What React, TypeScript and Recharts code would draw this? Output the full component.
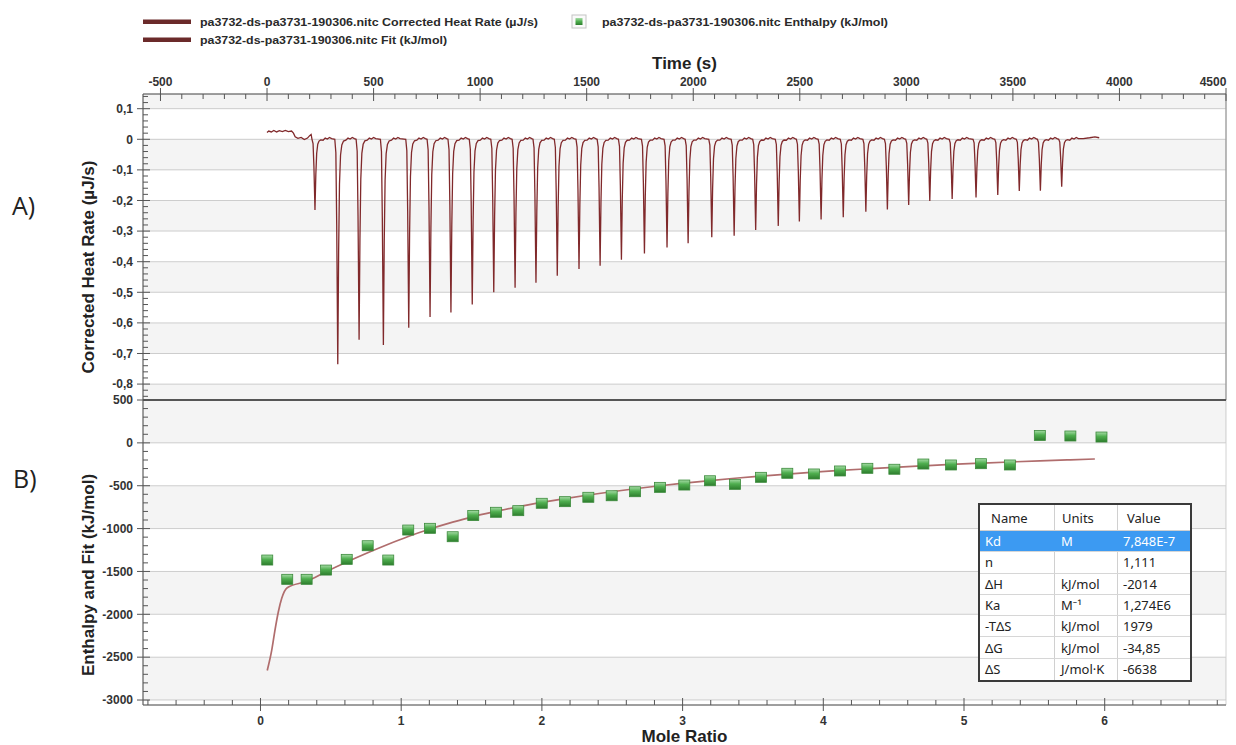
import React from 'react';
import {
  ComposedChart,
  Line,
  Scatter,
  XAxis,
  YAxis,
  CartesianGrid,
  ReferenceArea,
  ReferenceLine,
  Label,
} from 'recharts';

// ---- axes ----
const timeTicks = [-500, 0, 500, 1000, 1500, 2000, 2500, 3000, 3500, 4000, 4500];
const timeDomain: [number, number] = [-582, 4500];
const heatTicks = [0.1, 0, -0.1, -0.2, -0.3, -0.4, -0.5, -0.6, -0.7, -0.8];
const heatDomain: [number, number] = [-0.852, 0.148];
const moleTicks = [0, 1, 2, 3, 4, 5, 6];
const moleDomain: [number, number] = [-0.835, 6.862];
const enthalpyTicks = [500, 0, -500, -1000, -1500, -2000, -2500, -3000];
const enthalpyDomain: [number, number] = [-3058, 500];

// ---- A) raw heat rate ----
const injectionTimes = [
  225, 332, 432, 546, 665, 765, 863, 963, 1064, 1164, 1262, 1362, 1464, 1563, 1663, 1771, 1877, 1976,
  2087, 2192, 2293, 2399, 2498, 2600, 2704, 2810, 2911, 3011, 3110, 3215, 3327, 3429, 3530, 3629, 3729,
];
const peakHeat = [
  -0.231, -0.735, -0.655, -0.672, -0.616, -0.581, -0.566, -0.54, -0.5, -0.485, -0.469, -0.446, -0.424,
  -0.413, -0.394, -0.373, -0.354, -0.34, -0.32, -0.315, -0.296, -0.283, -0.269, -0.262, -0.255, -0.237,
  -0.229, -0.215, -0.202, -0.195, -0.19, -0.182, -0.169, -0.168, -0.155,
];
// pre-injection baseline
const startTrace: [number, number][] = [
  [0, 0.022], [8, 0.027], [20, 0.024], [32, 0.029], [45, 0.024], [58, 0.028], [72, 0.025], [86, 0.029],
  [100, 0.025], [115, 0.027], [124, 0.02], [132, 0.008], [145, 0.003], [160, 0.006], [175, -0.001],
  [190, 0.004], [200, 0.012], [207, 0.016],
];
// shape of one injection peak: [seconds from minimum, fraction of peak depth]
const peakShape: [number, number][] = [
  [-14, 0], [-9, 0.06], [-5, 0.38], [0, 1], [4, 0.5], [8, 0.2], [13, 0.07], [19, 0.025], [27, 0.008],
];
// baseline wiggle after each peak: [seconds from minimum, µJ/s]
const baselineRipple: [number, number][] = [
  [38, -0.003], [48, 0.004], [58, 0.001], [68, 0.006], [78, 0.002],
];
const endTrace: [number, number][] = [
  [3830, 0.002], [3860, 0.005], [3885, 0.008], [3905, 0.005],
];

// ---- B) integrated heats and fit ----
const moleRatio = [
  0.048, 0.19, 0.328, 0.466, 0.613, 0.762, 0.908, 1.05, 1.205, 1.366, 1.512, 1.674, 1.832, 1.999, 2.164,
  2.33, 2.496, 2.662, 2.839, 3.012, 3.195, 3.372, 3.557, 3.744, 3.934, 4.119, 4.313, 4.505, 4.711, 4.908,
  5.12, 5.326, 5.539, 5.756, 5.977,
];
const enthalpy = [
  -1367, -1592, -1592, -1484, -1359, -1200, -1367, -1017, -997, -1095, -848, -810, -791, -705, -686,
  -635, -617, -570, -519, -492, -442, -484, -402, -355, -363, -328, -297, -308, -247, -258, -243, -258,
  87, 80, 68,
];
const fitMole = [
  0.048, 0.08, 0.103, 0.127, 0.151, 0.19, 0.328, 0.466, 0.613, 0.762, 0.908, 1.05, 1.205, 1.366, 1.512,
  1.674, 1.832, 1.999, 2.164, 2.33, 2.496, 2.662, 2.839, 3.012, 3.195, 3.372, 3.557, 3.744, 3.934, 4.119,
  4.313, 4.505, 4.711, 4.908, 5.12, 5.326, 5.539, 5.756, 5.93,
];
const fitEnthalpy = [
  -2655, -2418, -2184, -1970, -1814, -1690, -1615, -1503, -1390, -1282, -1182, -1092, -1005, -925, -860,
  -800, -745, -695, -650, -608, -570, -535, -500, -470, -440, -413, -388, -364, -342, -322, -303, -285,
  -268, -252, -237, -223, -210, -198, -188,
];

const fitNames = ['Kd', 'n', 'ΔH', 'Ka', '-TΔS', 'ΔG', 'ΔS'];
const fitUnits = ['M', '', 'kJ/mol', 'M⁻¹', 'kJ/mol', 'kJ/mol', 'J/mol·K'];
const fitValues = ['7,848E-7', '1,111', '-2014', '1,274E6', '1979', '-34,85', '-6638'];

const legendLabels = [
  'pa3732-ds-pa3731-190306.nitc Corrected Heat Rate (µJ/s)',
  'pa3732-ds-pa3731-190306.nitc Fit (kJ/mol)',
  'pa3732-ds-pa3731-190306.nitc Enthalpy (kJ/mol)',
];

// ---- derived tables ----
const trace: { t: number; q: number }[] = [];
startTrace.forEach(([t, q]) => trace.push({ t, q }));
injectionTimes.forEach((t0, i) => {
  peakShape.forEach(([dt, f]) => trace.push({ t: t0 + dt, q: peakHeat[i] * f }));
  baselineRipple.forEach(([dt, q]) => trace.push({ t: t0 + dt, q }));
});
endTrace.forEach(([t, q]) => trace.push({ t, q }));

const points = moleRatio.map((x, i) => ({ x, y: enthalpy[i] }));
const fitLine = fitMole.map((x, i) => ({ x, y: fitEnthalpy[i] }));

const steps = (from: number, to: number, step: number) => {
  const out: number[] = [];
  for (let v = from; v <= to + 1e-9; v += step) out.push(Math.round(v * 1000) / 1000 || 0);
  return out;
};
// every tick mark (major + minor) on each axis
const timeAll = steps(-500, 4500, 100);
const heatAll = steps(-0.84, 0.14, 0.02);
const moleAll = steps(-0.8, 6.8, 0.2);
const enthalpyAll = steps(-3000, 500, 100);

// alternating background bands between grid lines
const bands = (edges: number[]) =>
  edges.slice(0, -1).map((a, i) => ({ y1: Math.min(a, edges[i + 1]), y2: Math.max(a, edges[i + 1]), shade: i % 2 === 0 }));
const heatBands = bands([heatDomain[1], ...heatTicks, heatDomain[0]]);
const enthalpyBands = bands([...enthalpyTicks, enthalpyDomain[0]]);

const FONT = "'Liberation Sans', Arial, sans-serif";
const AXIS = '#555';
const labelProps = { fontSize: 12, fontWeight: 'bold' as const, fill: '#333', fontFamily: FONT };

const isMajor = (v: number, majors: number[]) => majors.some((m) => Math.abs(m - v) < 1e-6);
const commaDecimal = (v: number) => String(v).replace('.', ',');

// ticks: majors cross the axis line, minors sit inside the plot
const makeTick = (side: 'left' | 'top' | 'bottom', majors: number[], fmt: (v: number) => string) => (props: any) => {
  const { x, y, payload } = props;
  const v = payload.value as number;
  const major = isMajor(v, majors);
  if (side === 'left') {
    return (
      <g>
        <line x1={x - (major ? 6 : 0)} x2={x + (major ? 7 : 5)} y1={y} y2={y} stroke={AXIS} />
        {major && (
          <text x={x - 10} y={y} dy="0.36em" textAnchor="end" {...labelProps}>
            {fmt(v)}
          </text>
        )}
      </g>
    );
  }
  if (side === 'top') {
    const last = Math.abs(v - majors[majors.length - 1]) < 1e-6;
    return (
      <g>
        <line x1={x} x2={x} y1={y - (major ? 6 : 0)} y2={y + (major ? 7 : 5)} stroke={AXIS} />
        {major && (
          <text x={last ? x - 13 : x} y={y - 8.5} textAnchor="middle" {...labelProps}>
            {fmt(v)}
          </text>
        )}
      </g>
    );
  }
  return (
    <g>
      <line x1={x} x2={x} y1={y + (major ? 6 : 0)} y2={y - (major ? 7 : 5)} stroke={AXIS} />
      {major && (
        <text x={x} y={y + 19.5} textAnchor="middle" {...labelProps}>
          {fmt(v)}
        </text>
      )}
    </g>
  );
};

const TimeTick = makeTick('top', timeTicks, String);
const HeatTick = makeTick('left', heatTicks, commaDecimal);
const MoleTick = makeTick('bottom', moleTicks, String);
const EnthalpyTick = makeTick('left', enthalpyTicks, String);

const verticalTitle = (text: string, fromRight: number, shift: number) => (props: any) => {
  const vb = props.viewBox || { x: 0, y: 0, width: 0, height: 0 };
  const cx = vb.x + vb.width - fromRight;
  const cy = vb.y + vb.height / 2 + shift;
  return (
    <text
      x={cx}
      y={cy}
      transform={`rotate(-90 ${cx} ${cy})`}
      textAnchor="middle"
      dominantBaseline="central"
      fontSize={17}
      fontWeight="bold"
      fill="#222"
      fontFamily={FONT}
    >
      {text}
    </text>
  );
};

const GreenSquare = (props: any) => {
  const { cx, cy } = props;
  if (cx == null || cy == null) return null;
  return (
    <rect x={cx - 5.5} y={cy - 5} width={11} height={10} fill="url(#ptSq)" stroke="#3b8a3b" strokeWidth={0.8} />
  );
};

function FitTable() {
  const cell = (w: number, pad: number): React.CSSProperties => ({
    width: w,
    paddingLeft: pad,
    boxSizing: 'border-box',
    display: 'flex',
    alignItems: 'center',
    whiteSpace: 'nowrap',
  });
  return (
    <div
      style={{
        position: 'absolute',
        left: 978,
        top: 503,
        width: 214,
        border: '2px solid #3a3a3a',
        boxSizing: 'border-box',
        background: '#fff',
        fontFamily: "'Noto Sans', sans-serif",
        fontSize: 13,
        color: '#222',
      }}
    >
      <div style={{ display: 'flex', height: 25, borderBottom: '1px solid #d0d0d0' }}>
        <div style={{ ...cell(75, 11), borderRight: '1px solid #d0d0d0' }}>Name</div>
        <div style={{ ...cell(63, 7), borderRight: '1px solid #d0d0d0' }}>Units</div>
        <div style={cell(72, 9)}>Value</div>
      </div>
      {fitNames.map((name, i) => {
        const hi = i === 0;
        return (
          <div
            key={name}
            style={{
              display: 'flex',
              height: 21.3,
              borderBottom: i < fitNames.length - 1 ? '1px solid #d6d6d6' : 'none',
              boxSizing: 'border-box',
              background: hi ? '#3c9af2' : '#fff',
              color: hi ? '#fff' : '#222',
            }}
          >
            <div style={{ ...cell(75, 5), borderRight: hi ? 'none' : '1px solid #d0d0d0' }}>{name}</div>
            <div style={{ ...cell(63, 6), borderRight: hi ? 'none' : '1px solid #d0d0d0' }}>{fitUnits[i]}</div>
            <div style={cell(72, 5)}>{fitValues[i]}</div>
          </div>
        );
      })}
    </div>
  );
}

export default function App() {
  return (
    <div style={{ position: 'absolute', left: 0, top: 0, width: 1236, height: 745, background: '#fff', fontFamily: FONT }}>
      {/* A) Corrected heat rate vs time */}
      <div style={{ position: 'absolute', left: 0, top: 0 }}>
        <ComposedChart width={1236} height={400} margin={{ top: 54, right: 10, bottom: 0, left: 0 }}>
          {heatBands.map((b, i) => (
            <ReferenceArea
              key={i}
              xAxisId="t"
              yAxisId="h"
              y1={b.y1}
              y2={b.y2}
              fill="#000"
              fillOpacity={b.shade ? 0.045 : 0}
              stroke="none"
              ifOverflow="visible"
            />
          ))}
          <CartesianGrid xAxisId="tGrid" yAxisId="hGrid" stroke="#d2d2d2" />
          <XAxis xAxisId="tGrid" hide type="number" domain={timeDomain} ticks={timeTicks} allowDataOverflow interval={0} />
          <YAxis yAxisId="hGrid" hide type="number" domain={heatDomain} ticks={heatTicks} allowDataOverflow interval={0} />
          <XAxis
            xAxisId="t"
            orientation="top"
            type="number"
            dataKey="t"
            domain={timeDomain}
            ticks={timeAll}
            allowDataOverflow
            interval={0}
            height={40}
            tickSize={0}
            tickMargin={0}
            tickLine={false}
            tick={<TimeTick />}
            stroke={AXIS}
          >
            <Label value="Time (s)" position="insideTop" offset={3} fontSize={17} fontWeight="bold" fill="#222" fontFamily={FONT} />
          </XAxis>
          <YAxis
            yAxisId="h"
            type="number"
            domain={heatDomain}
            ticks={heatAll}
            allowDataOverflow
            interval={0}
            width={143}
            tickSize={0}
            tickMargin={0}
            tickLine={false}
            tick={<HeatTick />}
            stroke={AXIS}
          >
            <Label content={verticalTitle('Corrected Heat Rate (µJ/s)', 55, 20)} />
          </YAxis>
          <ReferenceLine xAxisId="t" yAxisId="h" x={timeDomain[1]} stroke="#8c8c8c" />
          <Line
            xAxisId="t"
            yAxisId="h"
            data={trace}
            dataKey="q"
            type="linear"
            dot={false}
            stroke="#80292b"
            strokeWidth={1.3}
            isAnimationActive={false}
          />
        </ComposedChart>
      </div>

      {/* B) Integrated enthalpy vs mole ratio */}
      <div style={{ position: 'absolute', left: 0, top: 380 }}>
        <ComposedChart width={1236} height={365} margin={{ top: 20, right: 10, bottom: 0, left: 0 }}>
          <defs>
            <linearGradient id="ptSq" x1="0" y1="0" x2="0" y2="1">
              <stop offset="0%" stopColor="#a6dca6" />
              <stop offset="45%" stopColor="#4fae4f" />
              <stop offset="100%" stopColor="#2d7d2d" />
            </linearGradient>
          </defs>
          {enthalpyBands.map((b, i) => (
            <ReferenceArea
              key={i}
              xAxisId="m"
              yAxisId="e"
              y1={b.y1}
              y2={b.y2}
              fill="#000"
              fillOpacity={b.shade ? 0.045 : 0}
              stroke="none"
              ifOverflow="visible"
            />
          ))}
          <CartesianGrid xAxisId="time" yAxisId="eGrid" stroke="#d2d2d2" />
          <XAxis xAxisId="time" hide type="number" domain={timeDomain} ticks={timeTicks} allowDataOverflow interval={0} />
          <YAxis yAxisId="eGrid" hide type="number" domain={enthalpyDomain} ticks={enthalpyTicks} allowDataOverflow interval={0} />
          <XAxis
            xAxisId="m"
            orientation="bottom"
            type="number"
            dataKey="x"
            domain={moleDomain}
            ticks={moleAll}
            allowDataOverflow
            interval={0}
            height={40}
            tickSize={0}
            tickMargin={0}
            tickLine={false}
            tick={<MoleTick />}
            stroke={AXIS}
          >
            <Label value="Mole Ratio" position="insideBottom" offset={3} fontSize={17} fontWeight="bold" fill="#222" fontFamily={FONT} />
          </XAxis>
          <YAxis
            yAxisId="e"
            type="number"
            dataKey="y"
            domain={enthalpyDomain}
            ticks={enthalpyAll}
            allowDataOverflow
            interval={0}
            width={143}
            tickSize={0}
            tickMargin={0}
            tickLine={false}
            tick={<EnthalpyTick />}
            stroke={AXIS}
          >
            <Label content={verticalTitle('Enthalpy and Fit (kJ/mol)', 55, 22.5)} />
          </YAxis>
          <ReferenceLine xAxisId="m" yAxisId="e" y={enthalpyDomain[1]} stroke="#555" strokeWidth={2} />
          <ReferenceLine xAxisId="time" yAxisId="e" x={timeDomain[1]} stroke="#8c8c8c" />
          <Line
            xAxisId="m"
            yAxisId="e"
            data={fitLine}
            dataKey="y"
            type="monotone"
            dot={false}
            stroke="#b06d6d"
            strokeWidth={1.7}
            isAnimationActive={false}
          />
          <Scatter
            xAxisId="m"
            yAxisId="e"
            data={points}
            dataKey="y"
            shape={<GreenSquare />}
            isAnimationActive={false}
          />
        </ComposedChart>
      </div>

      <FitTable />

      {/* panel labels and legend */}
      <svg width={1236} height={745} style={{ position: 'absolute', left: 0, top: 0, pointerEvents: 'none' }}>
        <defs>
          <linearGradient id="legSq" x1="0" y1="0" x2="0" y2="1">
            <stop offset="0%" stopColor="#a6dca6" />
            <stop offset="50%" stopColor="#4fae4f" />
            <stop offset="100%" stopColor="#2d7d2d" />
          </linearGradient>
        </defs>
        <text x={12} y={215} fontFamily="'Open Sans', sans-serif" fontSize={25} fill="#222">A)</text>
        <text x={13} y={488} fontFamily="'Open Sans', sans-serif" fontSize={25} fill="#222">B)</text>

        <rect x={143} y={19.5} width={48} height={4.5} fill="#6b2a2a" />
        <text x={200} y={26} fontSize={11} fontWeight="bold" fill="#2a2a2a" fontFamily={FONT} textLength={338} lengthAdjust="spacingAndGlyphs">
          {legendLabels[0]}
        </text>
        <rect x={143} y={37.5} width={48} height={4.5} fill="#6b2a2a" />
        <text x={200} y={44} fontSize={11} fontWeight="bold" fill="#2a2a2a" fontFamily={FONT} textLength={247} lengthAdjust="spacingAndGlyphs">
          {legendLabels[1]}
        </text>
        <rect x={572} y={15} width={14} height={13} fill="#fafafa" stroke="#c4c4c4" />
        <rect x={575.5} y={18} width={7} height={7} fill="url(#legSq)" />
        <text x={602} y={26} fontSize={11} fontWeight="bold" fill="#2a2a2a" fontFamily={FONT} textLength={286} lengthAdjust="spacingAndGlyphs">
          {legendLabels[2]}
        </text>
      </svg>
    </div>
  );
}
